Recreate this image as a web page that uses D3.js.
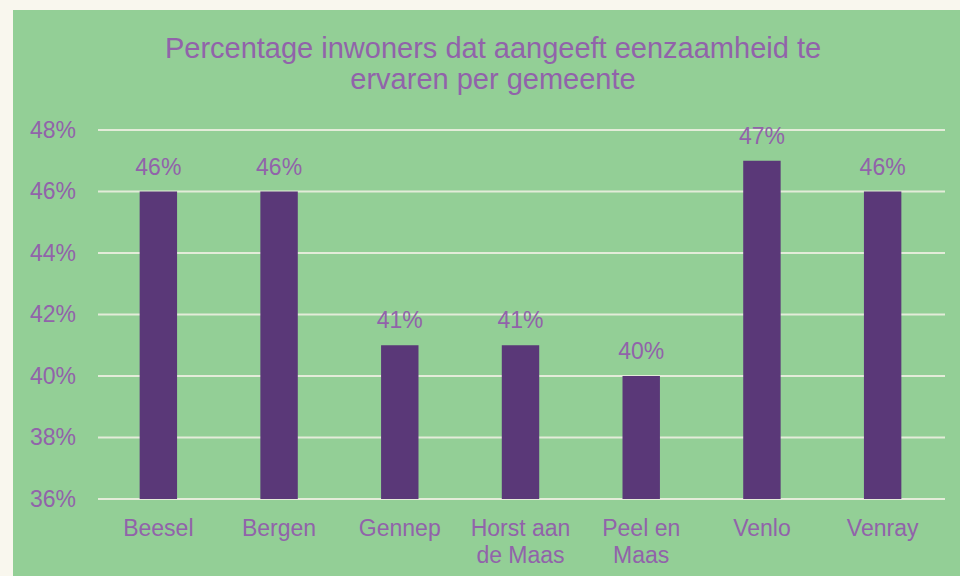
<!DOCTYPE html>
<html>
<head>
<meta charset="utf-8">
<script src="https://cdn.jsdelivr.net/npm/d3@7"></script>
<style>
  body { margin: 0; background: #f9f7ee; }
  text { font-family: "Liberation Sans", Arial, sans-serif; }
</style>
</head>
<body>
<div id="chart"></div>
<script>
var gemeenten = ["Beesel", "Bergen", "Gennep", "Horst aan|de Maas", "Peel en|Maas", "Venlo", "Venray"];
var percentages = [46, 46, 41, 41, 40, 47, 46];
var yTicks = [36, 38, 40, 42, 44, 46, 48];
var titleLines = ["Percentage inwoners dat aangeeft eenzaamheid te", "ervaren per gemeente"];

var svgWidth = 960;
var svgHeight = 576;
var purple = "#9163aa";

var svg = d3.select("#chart").append("svg")
  .attr("width", svgWidth)
  .attr("height", svgHeight);

// green panel
svg.append("rect")
  .attr("x", 13).attr("y", 10)
  .attr("width", svgWidth - 13).attr("height", svgHeight - 10)
  .attr("fill", "#93cf96");

var x = d3.scaleBand()
  .domain(gemeenten)
  .range([98, 943])
  .paddingInner(0.69)
  .paddingOuter(0.345);

var y = d3.scaleLinear()
  .domain([36, 48])
  .range([499, 130]);

// gridlines
svg.append("g").selectAll("line")
  .data(yTicks)
  .enter()
  .append("line")
  .attr("x1", 98).attr("x2", 945)
  .attr("y1", d => y(d)).attr("y2", d => y(d))
  .attr("stroke", "#e3ecd9")
  .attr("stroke-width", 2);

// y axis labels
var yAxis = svg.append("g")
  .attr("transform", "translate(88,0)")
  .call(d3.axisLeft(y).tickValues(yTicks).tickSize(0).tickPadding(12).tickFormat(d => d + "%"));
yAxis.select(".domain").remove();
yAxis.selectAll("text")
  .attr("fill", purple)
  .style("font-size", "23px");

// bars
svg.append("g").selectAll("rect")
  .data(percentages)
  .enter()
  .append("rect")
  .attr("x", (d, i) => x(gemeenten[i]))
  .attr("y", d => y(d))
  .attr("width", x.bandwidth())
  .attr("height", d => y(36) - y(d))
  .attr("fill", "#5a3878");

// value labels
svg.append("g").selectAll("text")
  .data(percentages)
  .enter()
  .append("text")
  .attr("x", (d, i) => x(gemeenten[i]) + x.bandwidth() / 2)
  .attr("y", d => y(d) - 17)
  .attr("text-anchor", "middle")
  .attr("fill", purple)
  .style("font-size", "23px")
  .text(d => d + "%");

// category labels
var cats = svg.append("g").selectAll("text")
  .data(gemeenten)
  .enter()
  .append("text")
  .attr("x", d => x(d) + x.bandwidth() / 2)
  .attr("y", 536)
  .attr("text-anchor", "middle")
  .attr("fill", purple)
  .style("font-size", "23px");
cats.each(function(d) {
  var parts = d.split("|");
  var t = d3.select(this);
  parts.forEach(function(p, i) {
    t.append("tspan")
      .attr("x", t.attr("x"))
      .attr("dy", i === 0 ? 0 : 27)
      .text(p);
  });
});

// title
svg.append("g").selectAll("text")
  .data(titleLines)
  .enter()
  .append("text")
  .attr("x", 493)
  .attr("y", (d, i) => 58 + i * 31)
  .attr("text-anchor", "middle")
  .attr("fill", purple)
  .style("font-size", "29px")
  .text(d => d);
</script>
</body>
</html>
